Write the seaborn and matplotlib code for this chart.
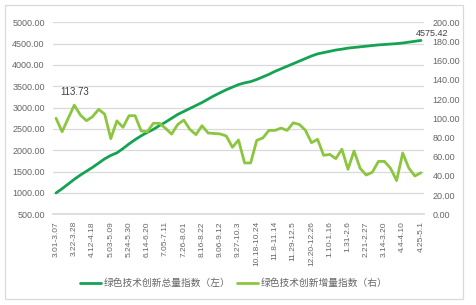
import matplotlib
matplotlib.use("Agg")
import matplotlib.pyplot as plt
import seaborn as sns
import pandas as pd
import numpy as np
from matplotlib.patches import Rectangle

sns.set_theme(style="white")
plt.rcParams['font.family'] = ['Liberation Sans', 'Noto Sans CJK SC', 'DejaVu Sans']

tick_labels = ["3.01-3.07", "3.22-3.28", "4.12-4.18", "5.03-5.09", "5.24-5.30",
               "6.14-6.20", "7.05-7.11", "7.26-8.01", "8.16-8.22", "9.06-9.12",
               "9.27-10.3", "10.18-10.24", "11.8-11.14", "11.29-12.5", "12.20-12.26",
               "1.10-1.16", "1.31-2.6", "2.21-2.27", "3.14-3.20", "4.4-4.10", "4.25-5.1"]

total_index = [1000, 1100, 1210, 1320, 1420, 1510, 1600, 1700, 1800, 1880,
               1940, 2040, 2150, 2250, 2340, 2420, 2490, 2580, 2660, 2750,
               2840, 2910, 2980, 3050, 3120, 3200, 3280, 3350, 3420, 3480,
               3540, 3580, 3610, 3660, 3720, 3780, 3850, 3910, 3970, 4030,
               4090, 4150, 4210, 4260, 4290, 4320, 4350, 4370, 4395, 4410,
               4425, 4440, 4455, 4470, 4480, 4490, 4500, 4515, 4535, 4555,
               4575.42]

incr_index = [100.0, 86.0, 100.0, 113.73, 103.4, 97.5, 101.7, 109.3, 104.3, 78.8,
              97.3, 90.6, 102.7, 102.7, 86.8, 86.0, 94.8, 94.8, 89.6, 83.5,
              93.5, 98.2, 88.5, 83.0, 92.3, 84.7, 84.2, 83.7, 81.5, 69.8,
              77.4, 53.5, 53.5, 77.0, 79.5, 87.4, 87.4, 89.8, 87.4, 95.3,
              93.6, 87.6, 74.6, 78.1, 61.4, 62.4, 58.0, 67.8, 46.9, 66.0,
              47.9, 40.9, 43.8, 55.1, 55.1, 47.9, 35.2, 63.8, 48.2, 39.9,
              43.3]

name_total = "绿色技术创新总量指数（左）"
name_incr = "绿色技术创新增量指数（右）"

df = pd.DataFrame({"week": np.arange(len(total_index)),
                   "total": total_index, "incr": incr_index})

DARK = "#14A352"
LIGHT = "#8CC63F"
GRID = "#D9D9D9"
TXT = "#666666"

fig = plt.figure(figsize=(4.77, 3.05), dpi=100)
ax = fig.add_axes([53/477, 1-214.3/305, (424-53)/477, (214.3-22.3)/305])
ax2 = ax.twinx()

sns.lineplot(data=df, x="week", y="total", ax=ax, color=DARK, lw=2.0, label=name_total, legend=False)
sns.lineplot(data=df, x="week", y="incr", ax=ax2, color=LIGHT, lw=2.0, label=name_incr, legend=False)

ax.set_ylim(500, 5000)
ax2.set_ylim(0, 200)
ax.set_xlim(-0.5, len(total_index) - 0.5)
ax.set_yticks(np.arange(500, 5001, 500))
ax2.set_yticks(np.arange(0, 201, 20))
ax.set_yticklabels([f"{v:.2f}" for v in np.arange(500, 5001, 500)])
ax2.set_yticklabels([f"{v:.2f}" for v in np.arange(0, 201, 20)])
ax.set_xticks(np.arange(0, len(total_index), 3))
ax.set_xticklabels(tick_labels, rotation=90)

ax.grid(axis='y', color=GRID, lw=0.9)
ax.set_axisbelow(True)
for a in (ax, ax2):
    for s in a.spines.values():
        s.set_visible(False)
    a.set_xlabel("")
    a.set_ylabel("")
    a.tick_params(length=0, labelsize=6.5, labelcolor=TXT)
ax.tick_params(axis='y', pad=6)
ax2.tick_params(axis='y', pad=6)
ax.tick_params(axis='x', pad=5, labelsize=6)
ax.spines['bottom'].set_visible(True)
ax.spines['bottom'].set_color(GRID)

ax2.annotate("113.73", xy=(3, incr_index[3]), xytext=(0, 6), textcoords="offset points",
             ha="center", va="bottom", fontsize=7, color="#404040")
ax.annotate("4575.42", xy=(60, total_index[60]), xytext=(8, 1.5), textcoords="offset points",
            ha="center", va="bottom", fontsize=6.5, color="#404040")

h1, l1 = ax.get_legend_handles_labels()
h2, l2 = ax2.get_legend_handles_labels()
fig.legend(h1 + h2, l1 + l2, loc="center", bbox_to_anchor=(0.49, 1-283/305), ncol=2,
           frameon=False, labelcolor=TXT, handlelength=2.2,
           handletextpad=0.3, columnspacing=0.6, prop={'family': ['Noto Sans CJK SC'], 'size': 7})

fig.patches.append(Rectangle((5/477, 1-299/305), (463-5)/477, (299-5)/305,
                             transform=fig.transFigure, fill=False, ec=GRID, lw=0.9))

fig.savefig("out.png", dpi=100)
